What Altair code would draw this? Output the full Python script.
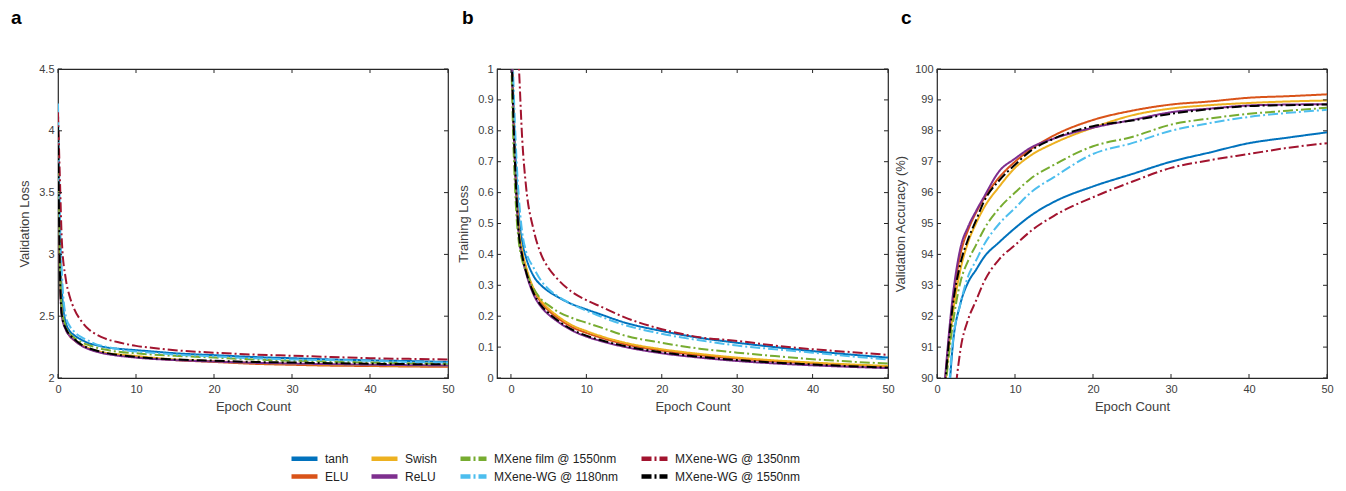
import altair as alt
import pandas as pd

SERIES = ["tanh", "ELU", "Swish", "ReLU", "MXene film @ 1550nm",
          "MXene-WG @ 1180nm", "MXene-WG @ 1350nm", "MXene-WG @ 1550nm"]
COLORS = ["#0072BD", "#D95319", "#EDB120", "#7E2F8E", "#77AC30",
          "#4DBEEE", "#A2142F", "#000000"]
LEGEND_ORDER = ["tanh", "Swish", "MXene film @ 1550nm", "MXene-WG @ 1350nm",
                "ELU", "ReLU", "MXene-WG @ 1180nm", "MXene-WG @ 1550nm"]

# ---- panel a: validation loss ----
EA = [0, 0.25, 0.5, 1, 1.5, 2, 3, 4, 5, 6, 8, 10, 12, 15, 20, 25, 30, 35, 40, 45, 50]
VAL_LOSS = {
    "tanh": [4.05, 3.10, 2.70, 2.45, 2.38, 2.35, 2.31, 2.28, 2.265, 2.25, 2.235, 2.225, 2.215, 2.20, 2.185, 2.17, 2.16, 2.15, 2.143, 2.137, 2.13],
    "ELU": [4.00, 2.90, 2.52, 2.40, 2.34, 2.31, 2.265, 2.235, 2.215, 2.20, 2.185, 2.172, 2.16, 2.145, 2.13, 2.115, 2.107, 2.10, 2.097, 2.093, 2.09],
    "Swish": [4.00, 2.90, 2.52, 2.40, 2.345, 2.315, 2.27, 2.24, 2.22, 2.205, 2.19, 2.178, 2.165, 2.15, 2.135, 2.122, 2.115, 2.108, 2.104, 2.10, 2.098],
    "ReLU": [4.00, 2.85, 2.50, 2.39, 2.34, 2.31, 2.262, 2.232, 2.212, 2.197, 2.178, 2.165, 2.155, 2.145, 2.133, 2.123, 2.117, 2.112, 2.107, 2.104, 2.10],
    "MXene film @ 1550nm": [4.10, 2.95, 2.55, 2.42, 2.36, 2.33, 2.29, 2.265, 2.245, 2.23, 2.21, 2.20, 2.19, 2.18, 2.165, 2.15, 2.14, 2.133, 2.125, 2.12, 2.115],
    "MXene-WG @ 1180nm": [4.22, 3.30, 2.85, 2.50, 2.42, 2.38, 2.33, 2.30, 2.27, 2.255, 2.23, 2.215, 2.205, 2.19, 2.175, 2.16, 2.15, 2.145, 2.14, 2.13, 2.125],
    "MXene-WG @ 1350nm": [4.15, 3.60, 3.10, 2.80, 2.66, 2.57, 2.46, 2.39, 2.35, 2.32, 2.285, 2.26, 2.245, 2.225, 2.205, 2.19, 2.18, 2.17, 2.16, 2.155, 2.15],
    "MXene-WG @ 1550nm": [4.03, 2.85, 2.50, 2.40, 2.35, 2.32, 2.27, 2.24, 2.22, 2.205, 2.185, 2.17, 2.16, 2.15, 2.14, 2.13, 2.125, 2.12, 2.115, 2.112, 2.11],
}

# ---- panel b: training loss ----
EB = [0.1, 0.3, 0.5, 0.75, 1, 1.5, 2, 3, 4, 5, 6, 8, 10, 12, 15, 20, 25, 30, 35, 40, 45, 50]
TRAIN_LOSS = {
    "tanh": [1.10, 0.92, 0.78, 0.64, 0.54, 0.44, 0.39, 0.33, 0.30, 0.28, 0.265, 0.24, 0.222, 0.205, 0.18, 0.152, 0.13, 0.114, 0.10, 0.087, 0.076, 0.066],
    "ELU": [1.05, 0.87, 0.72, 0.59, 0.49, 0.405, 0.355, 0.285, 0.245, 0.218, 0.198, 0.166, 0.146, 0.13, 0.11, 0.089, 0.074, 0.063, 0.054, 0.048, 0.042, 0.037],
    "Swish": [1.06, 0.88, 0.73, 0.60, 0.50, 0.41, 0.36, 0.29, 0.25, 0.224, 0.204, 0.172, 0.152, 0.135, 0.115, 0.093, 0.078, 0.066, 0.057, 0.05, 0.044, 0.039],
    "ReLU": [1.04, 0.855, 0.715, 0.575, 0.475, 0.39, 0.34, 0.27, 0.23, 0.205, 0.186, 0.155, 0.134, 0.119, 0.101, 0.08, 0.066, 0.055, 0.047, 0.041, 0.036, 0.032],
    "MXene film @ 1550nm": [0.98, 0.78, 0.64, 0.52, 0.45, 0.38, 0.345, 0.29, 0.255, 0.235, 0.218, 0.195, 0.179, 0.163, 0.138, 0.114, 0.095, 0.082, 0.071, 0.061, 0.053, 0.047],
    "MXene-WG @ 1180nm": [1.15, 0.98, 0.84, 0.70, 0.60, 0.47, 0.41, 0.357, 0.315, 0.287, 0.268, 0.24, 0.218, 0.198, 0.172, 0.143, 0.122, 0.105, 0.093, 0.082, 0.07, 0.06],
    "MXene-WG @ 1350nm": [1.80, 1.50, 1.30, 1.12, 1.03, 0.77, 0.62, 0.48, 0.40, 0.355, 0.325, 0.28, 0.252, 0.23, 0.197, 0.158, 0.132, 0.12, 0.105, 0.093, 0.084, 0.075],
    "MXene-WG @ 1550nm": [1.05, 0.86, 0.72, 0.58, 0.48, 0.395, 0.345, 0.275, 0.235, 0.21, 0.19, 0.158, 0.137, 0.122, 0.104, 0.083, 0.069, 0.058, 0.05, 0.044, 0.038, 0.034],
}

# ---- panel c: validation accuracy ----
EC = [1, 2, 3, 4, 5, 6, 8, 10, 12, 15, 20, 25, 30, 35, 40, 45, 50]
VAL_ACC = {
    "tanh": [87.0, 91.0, 92.4, 93.1, 93.5, 93.9, 94.4, 94.85, 95.25, 95.7, 96.2, 96.6, 97.0, 97.3, 97.6, 97.78, 97.95],
    "ELU": [89.8, 92.4, 94.0, 94.8, 95.35, 95.8, 96.5, 97.0, 97.4, 97.85, 98.35, 98.65, 98.85, 98.95, 99.07, 99.12, 99.18],
    "Swish": [89.6, 92.0, 93.5, 94.4, 95.0, 95.5, 96.2, 96.8, 97.2, 97.6, 98.1, 98.5, 98.72, 98.83, 98.9, 98.95, 98.98],
    "ReLU": [89.9, 92.6, 94.2, 94.9, 95.4, 95.85, 96.7, 97.1, 97.45, 97.75, 98.1, 98.35, 98.6, 98.72, 98.82, 98.85, 98.86],
    "MXene film @ 1550nm": [89.5, 91.7, 93.1, 93.8, 94.3, 94.8, 95.5, 96.0, 96.45, 96.9, 97.5, 97.8, 98.2, 98.4, 98.55, 98.65, 98.75],
    "MXene-WG @ 1180nm": [87.5, 91.1, 92.4, 93.3, 93.8, 94.3, 95.0, 95.5, 96.0, 96.5, 97.25, 97.6, 98.0, 98.25, 98.45, 98.58, 98.68],
    "MXene-WG @ 1350nm": [84.0, 88.5, 90.9, 91.9, 92.5, 93.1, 93.85, 94.3, 94.75, 95.25, 95.85, 96.35, 96.8, 97.05, 97.25, 97.45, 97.6],
    "MXene-WG @ 1550nm": [89.7, 92.3, 93.7, 94.5, 95.1, 95.7, 96.4, 96.9, 97.35, 97.75, 98.15, 98.33, 98.55, 98.7, 98.8, 98.83, 98.85],
}

XTICKS = [0, 10, 20, 30, 40, 50]
YTICKS_A = [2, 2.5, 3, 3.5, 4, 4.5]
YTICKS_B = [0, 0.1, 0.2, 0.3, 0.4, 0.5, 0.6, 0.7, 0.8, 0.9, 1]
YTICKS_C = [90, 91, 92, 93, 94, 95, 96, 97, 98, 99, 100]

SOLID = [1, 0]
DASHDOT = [10, 3, 2, 3]
DASH_BY_SERIES = {s: (SOLID if i < 4 else DASHDOT) for i, s in enumerate(SERIES)}
COLOR_BY_SERIES = dict(zip(SERIES, COLORS))


def long_df(epochs, table):
    rows = []
    for s in SERIES:
        for e, v in zip(epochs, table[s]):
            rows.append({"series": s, "epoch": e, "value": v})
    return pd.DataFrame(rows)


legend = alt.Legend(
    title=None, orient="none", legendX=239, legendY=382, direction="horizontal",
    columns=4, gridAlign="each", columnPadding=13, rowPadding=-1,
    symbolType="M-2.6,0H2.6", symbolSize=100, symbolStrokeWidth=4.5,
    labelFontSize=12, labelFont="Liberation Sans", labelColor="#222222",
    labelOffset=13, padding=0,
)
color_scale = alt.Scale(domain=LEGEND_ORDER, range=[COLOR_BY_SERIES[s] for s in LEGEND_ORDER])
dash_scale = alt.Scale(domain=LEGEND_ORDER, range=[DASH_BY_SERIES[s] for s in LEGEND_ORDER])

H = 309


def panel(df, xdom, ydom, yticks, yfmt, ytitle, letter, w, dx):
    xsc = alt.Scale(domain=xdom, nice=False, zero=False)
    ysc = alt.Scale(domain=ydom, nice=False, zero=False)
    xax = alt.Axis(values=XTICKS, title="Epoch Count", format="d", labelOverlap=False)
    yax = alt.Axis(values=yticks, title=ytitle, format=yfmt, labelOverlap=False)
    xe = alt.X("epoch:Q", scale=xsc, axis=xax)
    ye = alt.Y("value:Q", scale=ysc, axis=yax)
    lines = alt.Chart(df).mark_line(strokeWidth=2, clip=True, interpolate="monotone").encode(
        x=xe, y=ye,
        color=alt.Color("series:N", scale=color_scale, legend=legend),
        strokeDash=alt.StrokeDash("series:N", scale=dash_scale, legend=legend),
    )
    xt = alt.Chart(pd.DataFrame({"epoch": XTICKS}))
    yt = alt.Chart(pd.DataFrame({"value": yticks}))
    rk = dict(color="#262626", strokeWidth=1)
    top = xt.mark_rule(**rk).encode(x=xe, y=alt.value(0), y2=alt.value(4))
    bot = xt.mark_rule(**rk).encode(x=xe, y=alt.value(H), y2=alt.value(H - 4))
    lft = yt.mark_rule(**rk).encode(y=ye, x=alt.value(0), x2=alt.value(4))
    rgt = yt.mark_rule(**rk).encode(y=ye, x=alt.value(w), x2=alt.value(w - 4))
    return alt.layer(lines, top, bot, lft, rgt).properties(
        width=w, height=H,
        title=alt.TitleParams(letter, anchor="start", frame="group", dx=dx, offset=20,
                              fontSize=19, fontWeight="bold", font="Liberation Sans",
                              color="#000000", baseline="alphabetic"),
    )


pa = panel(long_df(EA, VAL_LOSS), [0, 50], [2, 4.5], YTICKS_A, "~g", "Validation Loss", "a", 390, -47)
pb = panel(long_df(EB, TRAIN_LOSS), [-1.85, 50], [0, 1], YTICKS_B, "~g", "Training Loss", "b", 391, -35)
pc = panel(long_df(EC, VAL_ACC), [0, 50], [90, 100], YTICKS_C, "d", "Validation Accuracy (%)", "c", 390, -36)

chart = alt.hconcat(pa, pb, pc, spacing=49, bounds="flush").properties(
    padding={"left": 10, "top": 8, "right": 5, "bottom": 5},
    background="white",
).configure_view(
    stroke="#262626", strokeWidth=1.2,
).configure_axis(
    domain=False, ticks=False, grid=False, labelFlush=False, labelOverlap=False,
    labelFont="Liberation Sans", titleFont="Liberation Sans",
    labelFontSize=11, titleFontSize=13, titleFontWeight="normal",
    labelColor="#404040", titleColor="#404040",
).configure_axisX(
    labelPadding=5, titlePadding=6,
).configure_axisY(
    labelPadding=4, titlePadding=7,
)

chart.save("out.html", embed_options={"renderer": "svg", "actions": False})
